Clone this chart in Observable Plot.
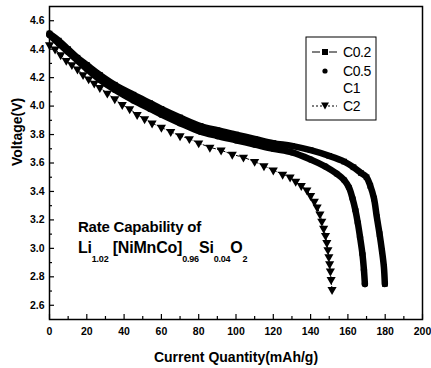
<!DOCTYPE html>
<html><head><meta charset="utf-8">
<script src="https://cdn.jsdelivr.net/npm/d3@7"></script>
<script src="https://cdn.jsdelivr.net/npm/@observablehq/plot@0.6"></script>
<style>
html,body{margin:0;padding:0;background:#fff;}
</style></head><body><div id="chart"></div>
<script>
// ---- data ----
const xTicks = [0, 20, 40, 60, 80, 100, 120, 140, 160, 180, 200];
const xMinor = [10, 30, 50, 70, 90, 110, 130, 150, 170, 190];
const yTicks = [2.6, 2.8, 3.0, 3.2, 3.4, 3.6, 3.8, 4.0, 4.2, 4.4, 4.6];
const yMinor = [2.7, 2.9, 3.1, 3.3, 3.5, 3.7, 3.9, 4.1, 4.3, 4.5];
const seriesNames = ["C0.2", "C0.5", "C1", "C2"];

const c02Cap  = [0, 5, 10, 15, 20, 27, 35, 45, 54, 60, 70, 81, 90, 100, 110, 120, 130, 140, 150, 158, 163, 167, 170, 172, 174, 175.5, 177, 178.3, 179.3, 179.8];
const c02Volt = [4.51, 4.46, 4.40, 4.34, 4.29, 4.22, 4.15, 4.08, 4.02, 3.98, 3.92, 3.86, 3.83, 3.80, 3.77, 3.74, 3.72, 3.69, 3.65, 3.61, 3.57, 3.53, 3.50, 3.44, 3.35, 3.22, 3.10, 2.98, 2.87, 2.75];

const c05Cap  = [0, 5, 10, 15, 20, 27, 35, 45, 54, 60, 70, 81, 90, 100, 110, 120, 130, 140, 148, 154, 158, 160.5, 162.5, 164, 165.3, 166.5, 167.8, 168.6, 169.1];
const c05Volt = [4.50, 4.44, 4.38, 4.32, 4.26, 4.185, 4.115, 4.04, 3.98, 3.94, 3.88, 3.82, 3.79, 3.76, 3.73, 3.70, 3.675, 3.625, 3.575, 3.525, 3.48, 3.43, 3.35, 3.27, 3.18, 3.08, 2.96, 2.85, 2.75];

const c2Cap  = [0, 3, 6, 9, 12, 15, 18, 21, 24, 27, 31, 35, 39, 43, 47, 51, 55, 60, 65, 70, 75, 80, 86, 92, 98, 104, 110, 115, 120, 125, 129, 132, 135, 138, 140, 142, 143.5, 145, 146, 147, 148, 148.7, 149.3, 149.8, 150.2, 150.6, 151, 151.5];
const c2Volt = [4.43, 4.40, 4.36, 4.32, 4.29, 4.26, 4.22, 4.19, 4.16, 4.13, 4.09, 4.05, 4.01, 3.98, 3.94, 3.91, 3.88, 3.85, 3.82, 3.79, 3.77, 3.74, 3.71, 3.69, 3.66, 3.64, 3.61, 3.58, 3.55, 3.52, 3.50, 3.47, 3.44, 3.41, 3.37, 3.33, 3.29, 3.24, 3.19, 3.14, 3.09, 3.04, 2.99, 2.94, 2.89, 2.84, 2.78, 2.71];

const annotation = {x: 15.5, y: 3.115};

// ---- layout ----
const W = 431, H = 368, mL = 49, mR = 9, mT = 6, mB = 49;
const fw = W - mL - mR, fh = H - mT - mB;
const rows = (cap, volt) => cap.map((c, i) => ({x: c, y: volt[i]}));
const c02 = rows(c02Cap, c02Volt), c05 = rows(c05Cap, c05Volt), c2 = rows(c2Cap, c2Volt);

const plot = Plot.plot({
  width: W, height: H,
  marginLeft: mL, marginRight: mR, marginTop: mT, marginBottom: mB,
  x: {domain: [0, 200]},
  y: {domain: [2.5, 4.7]},
  style: {fontFamily: "'Liberation Sans', Arial, sans-serif", fontWeight: "bold", background: "white", overflow: "visible", color: "black"},
  marks: [
    Plot.tickX(xTicks, {x: d => d, insetTop: fh - 5, stroke: "black", strokeWidth: 1.2}),
    Plot.tickX(xMinor, {x: d => d, insetTop: fh - 3, stroke: "black", strokeWidth: 1.2}),
    Plot.tickY(yTicks, {y: d => d, insetRight: fw - 5, stroke: "black", strokeWidth: 1.2}),
    Plot.tickY(yMinor, {y: d => d, insetRight: fw - 3, stroke: "black", strokeWidth: 1.2}),
    Plot.axisX({ticks: xTicks, tickSize: 0, tickPadding: 8, tickFormat: d => String(d), label: null, fontSize: 10.5, fontWeight: "bold"}),
    Plot.axisY({ticks: yTicks, tickSize: 0, tickPadding: 5, tickFormat: d3.format(".1f"), label: null, fontSize: 10.5, fontWeight: "bold"}),
    Plot.text(["Current Quantity(mAh/g)"], {frameAnchor: "bottom", dy: 38, fontSize: 14, fontWeight: "bold", lineAnchor: "middle"}),
    Plot.text(["Voltage(V)"], {frameAnchor: "left", dx: -32, dy: 3, rotate: -90, fontSize: 14, fontWeight: "bold", lineAnchor: "middle", style: "letter-spacing:1.2px"}),
    // C2
    Plot.line(c2, {x: "x", y: "y", stroke: "black", strokeWidth: 1, strokeDasharray: "3,2"}),
    Plot.dot(c2, {x: "x", y: "y", symbol: "triangle", r: 3.4, fill: "black", stroke: "none", rotate: 180}),
    // C0.5
    Plot.line(c05, {x: "x", y: "y", stroke: "black", strokeWidth: 6.5, curve: "catmull-rom"}),
    Plot.dot(c05, {x: "x", y: "y", r: 3.2, fill: "black", stroke: "none"}),
    // C0.2
    Plot.line(c02, {x: "x", y: "y", stroke: "black", strokeWidth: 6.5, curve: "catmull-rom"}),
    Plot.dot(c02, {x: "x", y: "y", symbol: "square", r: 3.2, fill: "black", stroke: "none"}),
    Plot.frame({stroke: "black", strokeWidth: 1.5})
  ]
});

const svg = d3.select(plot);
const sx = plot.scale("x"), sy = plot.scale("y");

// annotation
const ax = sx.apply(annotation.x), ay = sy.apply(annotation.y);
const ann = svg.append("g").attr("font-family", "'Liberation Sans', Arial, sans-serif").attr("font-weight", "bold").attr("fill", "black").attr("text-anchor", "start");
ann.append("text").attr("x", ax).attr("y", ay).attr("font-size", 15).style("letter-spacing", "-0.2px").text("Rate Capability of");
const t2 = ann.append("text").attr("x", ax).attr("y", ay + 21.5).attr("font-size", 16).style("letter-spacing", "-0.2px");
const parts = [["Li", 0], ["1.02", 1], [" [NiMnCo]", 0], ["0.96", 1], ["Si", 0], ["0.04", 1], ["O", 0], ["2", 1]];
let prevSub = false;
for (const [s, sub] of parts) {
  const ts = t2.append("tspan").text(s);
  if (sub) { ts.attr("font-size", 9).attr("dy", prevSub ? 0 : 9); }
  else { ts.attr("dy", prevSub ? -9 : 0); }
  prevSub = !!sub;
}

// legend
const lg = svg.append("g").attr("font-family", "'Liberation Sans', Arial, sans-serif").attr("font-weight", "normal").attr("text-anchor", "start");
const lx = 306, ly = 37, lw = 70, lh = 83;
lg.append("rect").attr("x", lx).attr("y", ly).attr("width", lw).attr("height", lh).attr("fill", "white").attr("stroke", "black").attr("stroke-width", 1);
const rowY = [15, 34, 50.5, 69];
seriesNames.forEach((name, i) => {
  const yy = ly + rowY[i];
  const cx = lx + 19;
  if (i === 0) {
    lg.append("line").attr("x1", lx + 6).attr("x2", lx + 31).attr("y1", yy).attr("y2", yy).attr("stroke", "black").attr("stroke-width", 1).attr("stroke-dasharray", "8,3,3,3,8");
    lg.append("rect").attr("x", cx - 3).attr("y", yy - 3).attr("width", 6).attr("height", 6).attr("fill", "black");
  } else if (i === 1) {
    lg.append("circle").attr("cx", cx).attr("cy", yy).attr("r", 2.6).attr("fill", "black");
  } else if (i === 3) {
    lg.append("line").attr("x1", lx + 6).attr("x2", lx + 31).attr("y1", yy).attr("y2", yy).attr("stroke", "black").attr("stroke-width", 1).attr("stroke-dasharray", "2,2");
    lg.append("path").attr("d", `M${cx - 4},${yy - 3.5}L${cx + 4},${yy - 3.5}L${cx},${yy + 3.5}Z`).attr("fill", "black");
  }
  lg.append("text").attr("x", lx + 37).attr("y", yy).attr("dy", "0.36em").attr("font-size", 14).style("letter-spacing", "-0.4px").attr("fill", "black").text(name);
});

document.getElementById("chart").appendChild(plot);
</script></body></html>
